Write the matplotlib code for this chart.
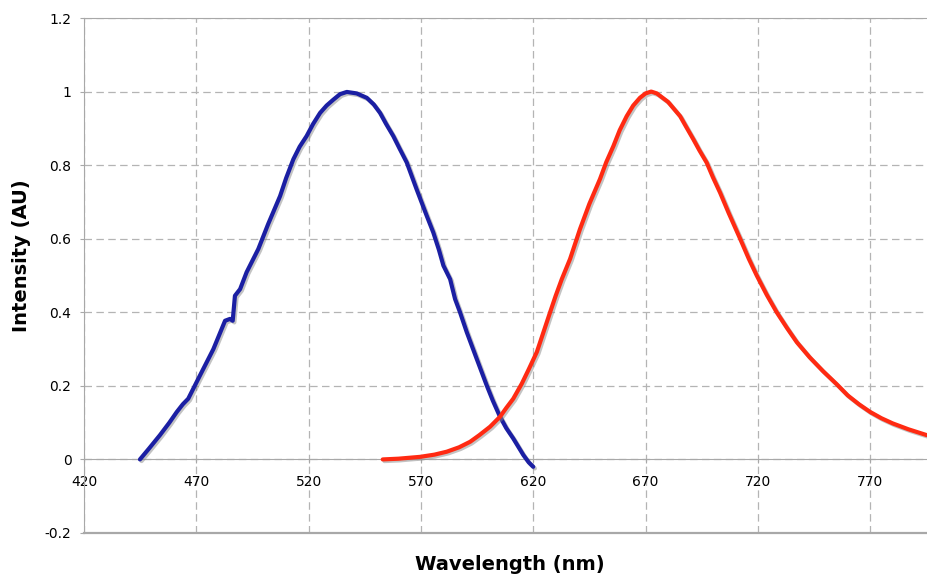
import matplotlib
matplotlib.use("Agg")
import matplotlib.pyplot as plt
import matplotlib.patheffects as pe

# emission spectra
blue_nm = [444.9, 449, 453.8, 458, 461.3, 464, 466.4, 471.6, 477.6, 482.8,
           485.0, 486.2, 487.2, 489.5, 492.4, 497.6, 502, 507.3, 510, 513.2,
           516, 519.1, 522, 525.1, 528, 531, 534, 537, 541.4, 545.9,
           549, 551.8, 554.5, 557.7, 560.5, 563.7, 568.1, 572.6, 575.5, 578,
           580, 583, 585.2, 587.4, 590.4, 594.8, 599.3, 602, 605.2, 608,
           611.1, 613.5, 615.6, 618, 620]
blue_int = [0.0, 0.03, 0.066, 0.10, 0.129, 0.15, 0.165, 0.228, 0.30, 0.377,
            0.382, 0.377, 0.445, 0.463, 0.509, 0.572, 0.64, 0.716, 0.765, 0.816,
            0.85, 0.879, 0.912, 0.942, 0.962, 0.978, 0.993, 0.999, 0.995, 0.983,
            0.965, 0.942, 0.912, 0.879, 0.845, 0.807, 0.734, 0.662, 0.617, 0.57,
            0.527, 0.49, 0.436, 0.40, 0.346, 0.274, 0.201, 0.16, 0.116, 0.085,
            0.057, 0.033, 0.012, -0.008, -0.02]

red_nm = [553, 560, 569.6, 576, 581.5, 587, 591.9, 596, 600.8, 605.2,
          608, 611.1, 614.9, 618, 621.6, 624.5, 627.5, 630, 632.7, 636.4,
          640.8, 645, 649.7, 652.5, 655.7, 658.5, 661.6, 664.5, 667.5, 670,
          672.5, 675, 680, 685.4, 688, 691.3, 694, 697.2, 700, 703.2,
          707, 712.1, 716, 719.5, 724, 728.4, 733, 737.3, 743, 749,
          755, 760, 765, 770, 775, 780, 787, 795.2]
red_int = [0.0, 0.002, 0.007, 0.013, 0.021, 0.033, 0.048, 0.066, 0.089, 0.116,
           0.14, 0.165, 0.206, 0.245, 0.292, 0.345, 0.40, 0.445, 0.49, 0.545,
           0.626, 0.695, 0.762, 0.808, 0.852, 0.895, 0.933, 0.962, 0.983, 0.995,
           1.0, 0.995, 0.972, 0.933, 0.905, 0.87, 0.84, 0.807, 0.767, 0.725,
           0.67, 0.60, 0.545, 0.50, 0.447, 0.40, 0.357, 0.319, 0.278, 0.24,
           0.205, 0.174, 0.15, 0.129, 0.112, 0.098, 0.082, 0.066]

x_ticks = [420, 470, 520, 570, 620, 670, 720, 770]
y_ticks = [-0.2, 0, 0.2, 0.4, 0.6, 0.8, 1.0, 1.2]
y_labels = ["-0.2", "0", "0.2", "0.4", "0.6", "0.8", "1", "1.2"]

W, H = 927, 577
fig = plt.figure(figsize=(W / 100, H / 100), dpi=100)
ax = fig.add_axes([84 / W, (H - 533) / H, (W - 84) / W, (533 - 18) / H])

gray = "#a8a8a8"
shadow = [pe.SimpleLineShadow(offset=(1.2, -1.2), shadow_color="#888888", alpha=0.5),
          pe.Normal()]
ax.plot(blue_nm, blue_int, color="#1b1fa3", lw=3, solid_capstyle="round",
        solid_joinstyle="round", path_effects=shadow, zorder=3)
ax.plot(red_nm, red_int, color="#ff2a12", lw=3, solid_capstyle="round",
        solid_joinstyle="round", path_effects=shadow, zorder=3)

ax.set_xlim(420, 795.3)
ax.set_ylim(-0.2, 1.2)
ax.set_xticks(x_ticks)
ax.set_yticks(y_ticks)
ax.set_yticklabels(y_labels)
ax.grid(True, color="#b4b4b4", linestyle=(0, (6, 3.5)), linewidth=0.9)
ax.set_axisbelow(True)

for s in ["left", "top"]:
    ax.spines[s].set_color(gray)
ax.spines["right"].set_visible(False)
ax.spines["bottom"].set_position(("data", 0))
ax.spines["bottom"].set_color(gray)
ax.plot([0, 1], [0, 0], transform=ax.transAxes, color=gray, lw=1.6,
        clip_on=False, zorder=2)

ax.tick_params(axis="y", length=3, width=0.8, color=gray, pad=6, labelsize=10)
ax.tick_params(axis="x", length=3, width=0.8, color=gray, pad=8.5, labelsize=10)

fig.text(510 / W, 1 - 565 / H, "Wavelength (nm)", ha="center", va="center",
         fontsize=14, fontweight="bold")
fig.text(22 / W, 1 - 256 / H, "Intensity (AU)", ha="center", va="center",
         rotation=90, fontsize=14, fontweight="bold")

fig.savefig("out.png", dpi=100)
